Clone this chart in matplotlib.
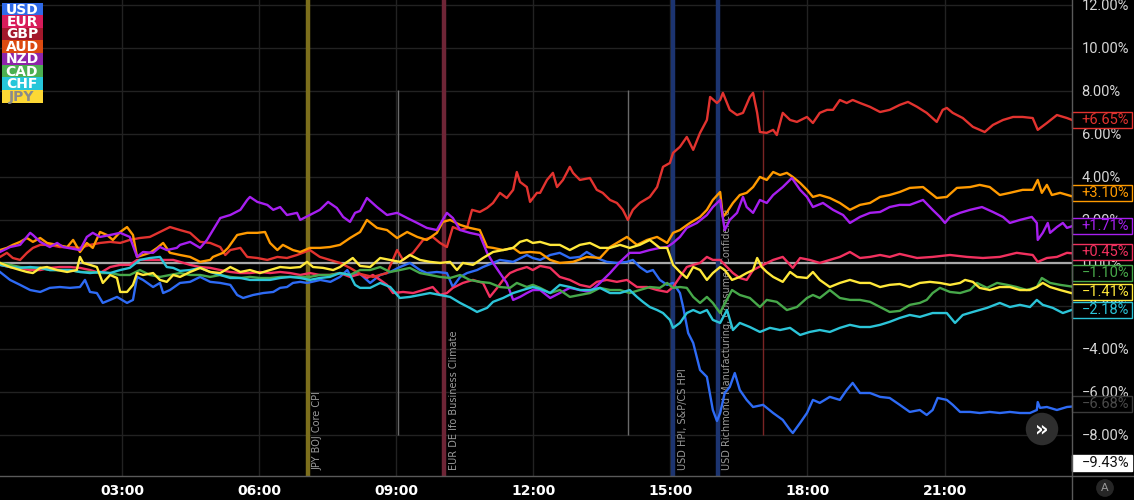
import matplotlib
matplotlib.use("Agg")
import matplotlib.pyplot as plt
import matplotlib.transforms as mtransforms
from matplotlib.patches import Rectangle

# currency strength, % change over the day (time in hours)
usd_t = [0.33, 0.55, 0.77, 0.99, 1.21, 1.42, 1.64, 1.86, 2.08, 2.19, 2.30, 2.45, 2.58, 2.74, 2.89, 3.11, 3.24, 3.33,
         3.46, 3.68, 3.83, 3.90, 4.05, 4.27, 4.49, 4.71, 4.93, 5.15, 5.37, 5.52, 5.65, 5.87, 6.09, 6.31, 6.46, 6.61,
         6.74, 6.90, 7.05, 7.34, 7.56, 7.77, 7.93, 7.99, 8.21, 8.43, 8.65, 8.87, 9.08, 9.30, 9.52, 9.67, 9.89, 10.11,
         10.24, 10.40, 10.55, 10.77, 10.90, 11.12, 11.27, 11.56, 11.86, 11.99, 12.15, 12.37, 12.58, 12.80, 13.02,
         13.17, 13.39, 13.61, 13.83, 14.05, 14.18, 14.33, 14.49, 14.62, 14.77, 14.93, 15.06, 15.21, 15.28, 15.39,
         15.50, 15.65, 15.80, 15.93, 16.02, 16.09, 16.19, 16.30, 16.41, 16.52, 16.67, 16.81, 17.03, 17.25, 17.46,
         17.62, 17.68, 17.84, 17.99, 18.12, 18.27, 18.49, 18.71, 18.86, 18.99, 19.15, 19.37, 19.59, 19.80, 20.02,
         20.24, 20.46, 20.61, 20.74, 20.85, 21.05, 21.18, 21.34, 21.56, 21.77, 21.99, 22.21, 22.43, 22.65, 22.87,
         23.02, 23.04, 23.09, 23.24, 23.46, 23.68, 23.79]
usd_v = [-0.42, -0.79, -1.02, -1.26, -1.35, -1.16, -1.12, -1.16, -1.12, -0.79, -1.35, -1.40, -1.86, -1.72, -1.58,
         -1.86, -1.72, -0.65, -0.79, -1.12, -0.93, -1.40, -1.26, -0.93, -0.88, -0.65, -0.88, -0.93, -1.02, -1.49,
         -1.63, -1.49, -1.40, -1.35, -1.16, -1.12, -0.93, -0.88, -0.93, -0.79, -0.88, -0.65, -0.33, -0.56, -0.51,
         -0.93, -0.56, -0.42, -0.19, 0.00, -0.33, -0.47, -0.42, -0.47, -1.12, -0.65, -0.47, -0.33, -0.19, 0.00,
         0.14, 0.05, 0.37, 0.23, 0.14, 0.37, 0.47, 0.23, 0.28, 0.51, 0.23, 0.05, 0.00, 0.05, 0.14, -0.19, -0.42,
         -0.33, -0.79, -1.02, -0.93, -1.40, -2.05, -3.26, -3.72, -4.98, -5.30, -6.84, -7.35, -6.98, -6.05, -5.77,
         -5.12, -5.91, -6.37, -6.70, -6.60, -6.98, -7.30, -7.77, -7.91, -7.44, -6.98, -6.37, -6.51, -6.23, -6.37,
         -5.91, -5.58, -6.05, -6.05, -6.23, -6.28, -6.60, -6.93, -6.84, -7.07, -6.84, -6.28, -6.37, -6.60, -6.93,
         -6.93, -6.98, -6.93, -6.98, -6.93, -6.98, -6.98, -6.84, -6.47, -6.74, -6.70, -6.84, -6.70, -6.68]

eur_t = [0.33, 0.55, 0.77, 0.99, 1.21, 1.42, 1.64, 1.86, 2.08, 2.30, 2.52, 2.74, 2.96, 3.17, 3.33, 3.46, 3.68, 3.90,
         4.12, 4.27, 4.49, 4.71, 4.93, 5.15, 5.37, 5.59, 5.80, 6.02, 6.24, 6.46, 6.68, 6.90, 7.11, 7.33, 7.55, 7.77,
         7.99, 8.21, 8.36, 8.49, 8.65, 8.80, 8.93, 9.15, 9.37, 9.59, 9.80, 9.96, 10.11, 10.24, 10.46, 10.68, 10.90,
         11.05, 11.21, 11.34, 11.49, 11.64, 11.86, 11.99, 12.15, 12.37, 12.58, 12.80, 13.02, 13.24, 13.39, 13.61,
         13.83, 14.05, 14.27, 14.49, 14.71, 14.93, 15.06, 15.21, 15.36, 15.50, 15.65, 15.80, 15.93, 16.09, 16.24,
         16.37, 16.52, 16.67, 16.81, 17.03, 17.25, 17.46, 17.68, 17.84, 18.05, 18.27, 18.49, 18.71, 18.93, 19.15,
         19.37, 19.59, 19.80, 20.02, 20.40, 20.74, 21.12, 21.49, 21.84, 22.21, 22.58, 22.93, 23.04, 23.24, 23.46,
         23.68, 23.79]
eur_v = [-0.09, -0.19, -0.23, -0.33, -0.33, -0.23, -0.19, -0.19, -0.23, -0.33, -0.47, -0.19, -0.09, -0.09, 0.14,
         0.14, 0.14, 0.14, 0.14, 0.05, -0.09, -0.19, -0.23, -0.33, -0.42, -0.47, -0.47, -0.42, -0.47, -0.42, -0.47,
         -0.56, -0.47, -0.56, -0.56, -0.47, -0.65, -0.51, -0.70, -0.56, -0.79, -1.02, -1.40, -1.35, -1.40, -1.26,
         -1.12, -1.49, -1.40, -1.16, -0.93, -0.79, -0.93, -1.58, -1.16, -0.79, -0.47, -0.33, -0.19, -0.33, -0.14,
         -0.23, -0.65, -0.79, -1.02, -1.12, -0.88, -0.79, -0.88, -0.79, -1.12, -1.12, -1.26, -1.35, -1.12, -0.65,
         -0.19, -0.09, 0.00, 0.28, 0.14, 0.14, -0.19, -0.47, -0.70, -0.79, -0.33, -0.09, 0.14, 0.28, -0.23, 0.23,
         0.14, 0.00, 0.14, 0.28, 0.51, 0.23, 0.28, 0.37, 0.28, 0.42, 0.23, 0.28, 0.37, 0.28, 0.23, 0.28, 0.47, 0.37,
         0.05, 0.23, 0.28, 0.47, 0.45]

gbp_t = [0.33, 0.48, 0.61, 0.77, 0.92, 1.05, 1.21, 1.42, 1.64, 1.86, 2.08, 2.30, 2.52, 2.74, 2.96, 3.17, 3.39, 3.61,
         3.83, 4.05, 4.27, 4.49, 4.71, 4.93, 5.15, 5.26, 5.37, 5.59, 5.74, 5.96, 6.18, 6.40, 6.61, 6.83, 7.11, 7.33,
         7.55, 7.77, 7.99, 8.21, 8.49, 8.80, 9.02, 9.15, 9.37, 9.59, 9.80, 9.96, 10.11, 10.24, 10.40, 10.55, 10.66,
         10.83, 10.99, 11.12, 11.27, 11.42, 11.56, 11.64, 11.71, 11.86, 11.93, 12.08, 12.15, 12.30, 12.43, 12.52,
         12.65, 12.80, 12.87, 13.02, 13.24, 13.39, 13.52, 13.68, 13.83, 13.96, 14.07, 14.18, 14.33, 14.55, 14.71,
         14.84, 14.99, 15.06, 15.21, 15.36, 15.50, 15.65, 15.80, 15.87, 16.02, 16.09, 16.15, 16.30, 16.46, 16.59,
         16.74, 16.81, 16.90, 16.96, 17.11, 17.25, 17.33, 17.46, 17.62, 17.77, 17.99, 18.12, 18.27, 18.43, 18.56,
         18.71, 18.86, 18.99, 19.15, 19.37, 19.59, 19.80, 20.02, 20.20, 20.40, 20.61, 20.83, 20.96, 21.05, 21.18,
         21.40, 21.62, 21.88, 22.06, 22.28, 22.50, 22.71, 22.93, 23.04, 23.24, 23.46, 23.68, 23.79]
gbp_v = [0.28, 0.47, 0.23, 0.14, 0.47, 0.70, 0.84, 0.84, 0.74, 0.74, 0.70, 0.84, 0.93, 0.98, 0.93, 1.07, 1.16, 1.21,
         1.44, 1.67, 1.53, 1.40, 0.98, 0.93, 0.74, 0.37, 0.60, 0.70, 0.28, 0.23, 0.14, 0.28, 0.23, 0.37, 0.60, 0.28,
         0.14, 0.00, -0.23, -0.51, -0.65, -0.47, 0.60, 0.14, 0.47, 1.07, 1.21, 0.93, 0.74, 1.67, 1.53, 1.63, 2.47,
         2.37, 2.56, 2.79, 3.26, 3.02, 3.40, 4.23, 3.77, 3.53, 2.84, 3.26, 3.26, 3.86, 4.19, 3.53, 3.86, 4.47, 4.19,
         3.86, 3.95, 3.40, 3.26, 2.93, 2.79, 2.47, 2.00, 2.47, 2.79, 3.07, 3.53, 4.47, 4.65, 5.12, 5.40, 5.86, 5.26,
         6.05, 6.65, 7.72, 7.44, 7.58, 7.91, 7.12, 6.88, 6.98, 7.72, 7.91, 6.98, 6.09, 6.05, 6.19, 5.95, 6.98, 6.65,
         6.56, 6.79, 6.51, 6.98, 7.12, 7.12, 7.58, 7.44, 7.58, 7.44, 7.26, 7.02, 7.12, 7.35, 7.49, 7.26, 6.98, 6.56,
         7.12, 7.21, 6.98, 6.74, 6.33, 6.09, 6.42, 6.65, 6.79, 6.79, 6.74, 6.19, 6.51, 6.88, 6.74, 6.65]

aud_t = [0.33, 0.48, 0.61, 0.77, 0.92, 1.05, 1.21, 1.36, 1.58, 1.80, 1.93, 2.08, 2.23, 2.36, 2.52, 2.67, 2.80, 2.96,
         3.11, 3.24, 3.33, 3.46, 3.61, 3.77, 3.90, 4.05, 4.27, 4.49, 4.71, 4.93, 4.99, 5.21, 5.32, 5.52, 5.74, 5.96,
         6.13, 6.24, 6.40, 6.52, 6.74, 6.90, 7.11, 7.33, 7.55, 7.77, 7.99, 8.21, 8.36, 8.58, 8.80, 9.02, 9.24, 9.46,
         9.67, 9.89, 10.02, 10.18, 10.40, 10.61, 10.83, 10.99, 11.12, 11.34, 11.56, 11.71, 11.93, 12.15, 12.37,
         12.58, 12.87, 13.17, 13.46, 13.68, 14.05, 14.27, 14.49, 14.71, 14.93, 15.06, 15.21, 15.43, 15.65, 15.80,
         15.93, 16.09, 16.15, 16.24, 16.37, 16.52, 16.67, 16.81, 16.96, 17.11, 17.25, 17.40, 17.55, 17.68, 17.84,
         17.99, 18.12, 18.27, 18.49, 18.71, 18.93, 19.15, 19.37, 19.59, 19.80, 20.02, 20.24, 20.53, 20.83, 21.05,
         21.27, 21.56, 21.77, 21.99, 22.21, 22.43, 22.71, 22.93, 23.04, 23.13, 23.24, 23.35, 23.53, 23.79]
aud_v = [0.60, 0.70, 0.84, 0.98, 1.16, 0.98, 1.16, 0.93, 0.84, 0.74, 1.07, 0.51, 0.93, 0.70, 1.44, 1.30, 1.07, 1.44,
         1.67, 1.30, 0.28, 0.37, 0.47, 0.70, 0.93, 0.47, 0.37, 0.28, 0.05, 0.14, 0.28, 0.47, 0.70, 1.30, 1.40, 1.40,
         1.44, 0.93, 0.60, 0.84, 0.60, 0.51, 0.70, 0.70, 0.74, 0.84, 1.16, 1.44, 2.00, 1.63, 1.53, 1.16, 1.44, 1.21,
         1.07, 1.40, 1.91, 2.00, 1.77, 1.63, 1.53, 0.74, 0.70, 0.60, 0.70, 0.47, 0.51, 0.47, 0.14, 0.00, 0.05, 0.28,
         0.23, 0.74, 1.21, 0.84, 1.07, 1.21, 0.93, 1.40, 1.53, 1.86, 2.14, 2.47, 2.93, 3.30, 2.14, 2.37, 2.79, 3.16,
         3.26, 3.53, 4.00, 3.86, 4.23, 4.09, 4.19, 4.00, 3.72, 3.40, 3.07, 3.16, 3.02, 2.79, 2.47, 2.70, 2.79, 3.07,
         3.16, 3.30, 3.49, 3.53, 3.02, 3.07, 3.49, 3.53, 3.63, 3.53, 3.16, 3.26, 3.40, 3.40, 3.86, 3.26, 3.63, 3.16,
         3.26, 3.10]

nzd_t = [0.33, 0.55, 0.77, 0.99, 1.05, 1.21, 1.42, 1.58, 1.71, 2.08, 2.23, 2.36, 2.52, 2.74, 2.96, 3.17, 3.33, 3.46,
         3.68, 3.83, 3.98, 4.20, 4.27, 4.49, 4.71, 4.86, 4.99, 5.15, 5.37, 5.59, 5.74, 5.80, 5.96, 6.18, 6.31, 6.46,
         6.61, 6.83, 6.90, 7.11, 7.33, 7.51, 7.70, 7.84, 7.99, 8.10, 8.21, 8.36, 8.58, 8.80, 9.02, 9.24, 9.46, 9.67,
         9.89, 10.11, 10.24, 10.40, 10.61, 10.83, 10.99, 11.12, 11.27, 11.42, 11.56, 11.71, 11.86, 11.99, 12.15,
         12.37, 12.58, 12.80, 13.02, 13.24, 13.46, 13.68, 13.90, 14.11, 14.33, 14.55, 14.77, 14.93, 15.06, 15.21,
         15.36, 15.58, 15.80, 15.93, 16.09, 16.19, 16.30, 16.46, 16.59, 16.67, 16.81, 16.96, 17.11, 17.25, 17.46,
         17.66, 17.84, 17.99, 18.12, 18.34, 18.56, 18.78, 18.93, 19.15, 19.37, 19.59, 19.80, 20.02, 20.24, 20.53,
         20.74, 20.90, 21.01, 21.12, 21.34, 21.56, 21.82, 22.06, 22.28, 22.43, 22.65, 22.91, 23.02, 23.04, 23.15,
         23.26, 23.31, 23.46, 23.59, 23.68, 23.79]
nzd_v = [0.51, 0.74, 0.84, 1.40, 1.30, 0.98, 0.74, 0.93, 0.74, 0.60, 1.21, 1.40, 1.21, 1.30, 1.40, 1.21, 0.28, 0.51,
         0.47, 0.74, 0.60, 0.70, 0.84, 0.98, 0.70, 1.07, 1.53, 2.09, 2.23, 2.47, 2.93, 3.07, 2.84, 2.70, 2.47, 2.60,
         2.23, 2.33, 2.00, 2.23, 2.47, 2.84, 2.56, 2.14, 1.91, 2.33, 2.42, 3.02, 2.60, 2.23, 2.33, 2.09, 1.86, 1.63,
         1.53, 2.33, 2.09, 1.53, 1.40, 1.30, 0.47, 0.00, -0.47, -0.93, -1.72, -1.58, -1.40, -1.26, -1.26, -1.63,
         -1.40, -1.16, -1.26, -1.35, -0.93, -0.47, 0.05, 0.47, 0.47, 0.60, 0.70, 0.74, 0.93, 1.21, 1.63, 1.86, 2.23,
         2.60, 2.93, 1.53, 2.00, 2.33, 3.07, 2.60, 2.33, 2.93, 2.79, 3.16, 3.53, 3.95, 3.40, 3.07, 2.60, 2.79, 2.47,
         2.23, 1.86, 2.14, 2.33, 2.37, 2.60, 2.70, 2.70, 2.93, 2.47, 2.14, 1.86, 2.14, 2.33, 2.47, 2.60, 2.37, 2.14,
         1.86, 2.00, 2.14, 1.86, 1.07, 1.40, 1.86, 1.40, 1.67, 1.86, 1.63, 1.71]

cad_t = [0.33, 0.55, 0.77, 0.99, 1.21, 1.42, 1.64, 1.86, 2.08, 2.30, 2.52, 2.74, 2.96, 3.17, 3.39, 3.61, 3.83, 4.05,
         4.27, 4.49, 4.71, 4.93, 5.15, 5.37, 5.59, 5.80, 6.02, 6.24, 6.46, 6.68, 6.90, 7.11, 7.33, 7.55, 7.77, 7.99,
         8.21, 8.43, 8.65, 8.87, 9.08, 9.30, 9.52, 9.74, 9.96, 10.18, 10.40, 10.61, 10.83, 11.05, 11.27, 11.49,
         11.64, 11.86, 11.99, 12.15, 12.37, 12.58, 12.80, 13.02, 13.24, 13.46, 13.68, 13.90, 14.11, 14.33, 14.55,
         14.77, 14.93, 15.06, 15.21, 15.36, 15.50, 15.65, 15.80, 15.93, 16.09, 16.15, 16.35, 16.52, 16.74, 16.96,
         17.11, 17.33, 17.55, 17.77, 17.99, 18.12, 18.27, 18.49, 18.71, 18.93, 19.15, 19.37, 19.59, 19.80, 20.02,
         20.24, 20.46, 20.61, 20.74, 20.90, 21.12, 21.34, 21.56, 21.71, 21.93, 22.15, 22.37, 22.58, 22.80, 23.02,
         23.13, 23.31, 23.53, 23.79]
cad_v = [0.00, -0.09, -0.19, -0.23, -0.23, -0.33, -0.33, -0.33, -0.42, -0.42, -0.47, -0.47, -0.56, -0.56, -0.33,
         -0.56, -0.65, -0.56, -0.47, -0.56, -0.56, -0.65, -0.56, -0.65, -0.70, -0.65, -0.70, -0.70, -0.65, -0.65,
         -0.65, -0.65, -0.56, -0.56, -0.47, -0.56, -0.33, -0.33, -0.19, -0.42, -0.33, -0.23, -0.47, -0.56, -0.65,
         -0.70, -0.56, -0.79, -0.88, -0.93, -1.12, -1.16, -0.93, -1.12, -1.02, -1.16, -1.40, -1.26, -1.58, -1.49,
         -1.40, -1.16, -1.26, -1.26, -1.40, -1.26, -1.12, -1.16, -0.93, -1.16, -1.12, -1.16, -1.58, -1.86, -1.58,
         -1.86, -2.33, -2.05, -1.26, -1.49, -1.63, -2.05, -1.72, -1.81, -2.19, -2.05, -1.63, -1.49, -1.63, -1.26,
         -1.63, -1.72, -1.72, -1.81, -2.05, -2.28, -2.23, -1.95, -1.86, -1.72, -1.40, -1.16, -1.35, -1.40, -1.26,
         -0.93, -1.16, -0.93, -1.02, -1.12, -1.26, -1.12, -0.70, -0.93, -1.02, -1.10]

chf_t = [0.33, 0.55, 0.77, 0.99, 1.21, 1.42, 1.64, 1.86, 2.08, 2.30, 2.52, 2.74, 2.96, 3.17, 3.39, 3.61, 3.83, 3.98,
         4.12, 4.27, 4.49, 4.71, 4.93, 5.15, 5.37, 5.59, 5.80, 6.02, 6.24, 6.46, 6.68, 6.90, 7.11, 7.33, 7.55, 7.77,
         7.99, 8.10, 8.21, 8.43, 8.65, 8.87, 9.08, 9.30, 9.52, 9.74, 9.96, 10.18, 10.40, 10.61, 10.77, 10.99, 11.12,
         11.34, 11.56, 11.77, 11.99, 12.15, 12.37, 12.58, 12.80, 13.02, 13.24, 13.46, 13.68, 13.90, 14.11, 14.27,
         14.40, 14.55, 14.71, 14.84, 14.99, 15.06, 15.21, 15.36, 15.50, 15.65, 15.80, 15.93, 16.09, 16.24, 16.37,
         16.52, 16.74, 16.96, 17.18, 17.40, 17.62, 17.84, 18.05, 18.27, 18.49, 18.71, 18.93, 19.15, 19.37, 19.59,
         19.80, 20.02, 20.24, 20.46, 20.74, 21.05, 21.23, 21.40, 21.62, 21.93, 22.21, 22.43, 22.65, 22.87, 22.98,
         23.02, 23.15, 23.37, 23.59, 23.79]
chf_v = [-0.09, -0.19, -0.23, -0.19, -0.23, -0.33, -0.33, -0.33, -0.42, -0.47, -0.42, -0.47, -0.33, -0.23, 0.14,
         0.23, 0.28, -0.19, -0.23, -0.37, -0.33, -0.23, -0.42, -0.56, -0.70, -0.70, -0.79, -0.79, -0.79, -0.70,
         -0.65, -0.70, -0.79, -0.70, -0.65, -0.47, -0.56, -1.02, -1.16, -1.16, -0.93, -1.12, -1.63, -1.58, -1.49,
         -1.40, -1.49, -1.58, -1.86, -2.09, -2.28, -2.09, -1.81, -1.63, -1.40, -1.26, -1.12, -1.21, -1.40, -1.02,
         -1.12, -1.26, -1.26, -1.16, -1.40, -1.40, -1.26, -1.58, -1.81, -2.05, -2.19, -2.33, -2.65, -3.02, -2.79,
         -2.33, -2.19, -2.33, -2.19, -2.65, -2.79, -2.19, -3.12, -2.79, -2.98, -3.21, -3.02, -3.12, -3.02, -3.35,
         -3.21, -3.12, -3.21, -3.02, -2.88, -2.98, -2.98, -2.88, -2.74, -2.56, -2.42, -2.51, -2.33, -2.33, -2.79,
         -2.42, -2.28, -2.09, -1.86, -2.05, -1.95, -2.05, -1.81, -1.72, -1.95, -2.09, -2.33, -2.18]

jpy_t = [0.33, 0.55, 0.77, 0.92, 1.05, 1.21, 1.36, 1.58, 1.80, 2.01, 2.08, 2.15, 2.30, 2.45, 2.58, 2.74, 2.89, 2.96,
         3.11, 3.24, 3.33, 3.46, 3.68, 3.83, 3.98, 4.12, 4.27, 4.49, 4.71, 4.93, 5.15, 5.37, 5.59, 5.80, 6.02, 6.24,
         6.46, 6.68, 6.90, 7.05, 7.18, 7.40, 7.62, 7.77, 7.93, 8.05, 8.21, 8.43, 8.65, 8.87, 9.08, 9.30, 9.52, 9.74,
         9.96, 10.18, 10.33, 10.46, 10.68, 10.90, 11.12, 11.34, 11.56, 11.71, 11.86, 11.99, 12.15, 12.37, 12.58,
         12.80, 13.02, 13.24, 13.46, 13.68, 13.90, 14.11, 14.33, 14.55, 14.77, 14.93, 15.06, 15.21, 15.36, 15.50,
         15.65, 15.80, 15.93, 16.09, 16.19, 16.35, 16.52, 16.67, 16.81, 16.90, 17.00, 17.11, 17.25, 17.46, 17.62,
         17.77, 17.99, 18.12, 18.27, 18.49, 18.71, 18.93, 19.15, 19.37, 19.59, 19.80, 20.02, 20.24, 20.46, 20.68,
         20.90, 21.12, 21.34, 21.45, 21.62, 21.77, 21.99, 22.21, 22.43, 22.65, 22.87, 23.02, 23.15, 23.31, 23.53,
         23.79]
jpy_v = [0.00, -0.19, -0.33, -0.42, -0.47, -0.23, -0.19, -0.33, -0.42, -0.33, 0.28, 0.00, -0.09, -0.19, -0.93,
         -0.56, -0.70, -1.35, -1.35, -1.02, -0.47, -0.56, -0.47, -0.79, -0.88, -0.56, -0.65, -0.42, -0.23, -0.42,
         -0.47, -0.19, -0.42, -0.33, -0.47, -0.33, -0.19, -0.23, -0.19, 0.05, -0.19, -0.23, -0.33, -0.19, 0.05, 0.23,
         -0.14, -0.19, 0.23, 0.14, 0.05, 0.37, 0.14, 0.05, 0.00, 0.05, -0.33, 0.00, -0.09, 0.23, 0.51, 0.60, 0.70,
         0.98, 1.07, 0.93, 0.98, 0.84, 0.84, 0.60, 0.84, 0.93, 0.70, 0.70, 0.84, 0.70, 0.84, 1.07, 0.70, 0.70, -0.09,
         -0.42, -0.70, -0.19, -0.33, -0.79, -0.47, -0.19, -0.33, -0.79, -0.65, -0.47, -0.33, 0.23, -0.19, -0.42,
         -0.65, -0.88, -0.42, -0.65, -0.70, -0.42, -0.79, -1.12, -0.93, -0.79, -0.93, -0.93, -1.12, -1.02, -0.98,
         -1.12, -0.93, -0.88, -0.93, -1.02, -0.93, -0.79, -0.88, -1.16, -1.26, -1.12, -1.12, -1.26, -1.26, -1.12,
         -0.93, -1.12, -1.26, -1.41]

names = ["USD", "EUR", "GBP", "AUD", "NZD", "CAD", "CHF", "JPY"]
line_colors = ["#2e6bf5", "#f2315f", "#e2332f", "#ff9a00", "#a71ff0", "#47a84a", "#2cc4d8", "#ffe83a"]
legend_colors = ["#2f6ae8", "#d81b5a", "#a3182b", "#dc4a10", "#8e24aa", "#4caf50", "#26c6da", "#fdd835"]
series = [(usd_t, usd_v), (eur_t, eur_v), (gbp_t, gbp_v), (aud_t, aud_v), (nzd_t, nzd_v),
          (cad_t, cad_v), (chf_t, chf_v), (jpy_t, jpy_v)]

# last value boxes on the price scale
last_labels = ["+6.65%", "+3.10%", "+1.71%", "+0.45%", "\u22121.10%", "\u22121.41%", "\u22122.18%"]
last_colors = ["#e2332f", "#ff9a00", "#a71ff0", "#f2315f", "#47a84a", "#ffe83a", "#2cc4d8"]
last_pos = [6.65, 3.26, 1.72, 0.50, -0.47, -1.35, -2.19]

events = ["JPY BOJ Core CPI", "EUR DE Ifo Business Climate", "USD HPI, S&P/CS HPI",
          "USD Richmond Manufacturing, Consumer Confidence"]
event_times = [7.07, 10.05, 15.06, 16.04]
event_colors = ["#7d6f1c", "#6e2536", "#1c3470", "#1c3470"]

W, H = 1134, 500
fig = plt.figure(figsize=(W / 100, H / 100), dpi=100, facecolor="black")
ax = fig.add_axes([0, 24 / H, 1072 / W, 476 / H])
ax.set_facecolor("black")
ax.set_xlim(0.33, 23.79)
ax.set_ylim(-9.91, 12.23)

for v in range(-8, 13, 2):
    ax.axhline(v, color="#222222", lw=1, zorder=0)
for h in range(3, 22, 3):
    ax.axvline(h, color="#222222", lw=1, zorder=0)
ax.axhline(0, color="#a8a8a8", lw=1.6, zorder=1)
ax.vlines([9.04, 14.07], -8.0, 8.05, color="#6a6a6a", lw=1, zorder=1)
ax.vlines([17.03], -8.0, 8.05, color="#7a2424", lw=1, zorder=1)

for t, c in zip(event_times, event_colors):
    ax.axvline(t, color=c, lw=3.2, zorder=1)
for t, txt in zip(event_times, events):
    ax.text(t + 0.1, -9.62, txt, rotation=90, ha="left", va="bottom",
            color="#9a9a9a", fontsize=7, zorder=2)

for (t, v), c in zip(series, line_colors):
    ax.plot(t, v, color=c, lw=1.7, zorder=3)

ax.set_xticks(range(3, 22, 3))
ax.set_xticklabels(["%02d:00" % h for h in range(3, 22, 3)])
ax.yaxis.tick_right()
ax.set_yticks(range(-8, 13, 2))
ax.set_yticklabels([("%.2f%%" % v).replace("-", "\u2212") for v in range(-8, 13, 2)])
ax.tick_params(axis="x", length=0, pad=6, labelcolor="white", labelsize=10)
ax.tick_params(axis="y", length=0, pad=7, labelcolor="#d6d6d6", labelsize=10.5)
for lab in ax.get_xticklabels():
    lab.set_fontweight("bold")
for lab in ax.get_yticklabels():
    lab.set_family("Roboto")
for s in ax.spines.values():
    s.set_visible(False)

# last value boxes
trans = mtransforms.blended_transform_factory(ax.transAxes, ax.transData)
box_w = 60 / 1072
box_h = 16 / 21.5
for lab, c, y in zip(last_labels, last_colors, last_pos):
    ax.add_patch(Rectangle((1.0, y - box_h / 2), box_w, box_h, transform=trans,
                           fc="black", ec=c, lw=1, clip_on=False, zorder=5))
    ax.text(1.009, y, lab, transform=trans, ha="left", va="center", family="Roboto",
            color=c, fontsize=10.5, clip_on=False, zorder=6)
ax.add_patch(Rectangle((1.0, -6.56 - box_h / 2), box_w, box_h, transform=trans,
                       fc="black", ec="#3a3a3a", lw=1, clip_on=False, zorder=5))
ax.text(1.009, -6.56, "\u22126.68%", transform=trans, ha="left", va="center", family="Roboto",
        color="#4a4a4a", fontsize=10.5, clip_on=False, zorder=6)
ax.add_patch(Rectangle((1.0, -9.30 - box_h / 2), box_w, box_h, transform=trans,
                       fc="white", ec="white", lw=1, clip_on=False, zorder=5))
ax.text(1.009, -9.30, "\u22129.43%", transform=trans, ha="left", va="center", family="Roboto",
        color="#111111", fontsize=10.5, clip_on=False, zorder=6)

# frame lines
fig.add_artist(plt.Line2D([0, 1], [24 / H, 24 / H], color="#5a5a5a", lw=1))
fig.add_artist(plt.Line2D([1072 / W, 1072 / W], [0, 1], color="#5a5a5a", lw=1))

# legend
step = 12.4
for i, (n, c) in enumerate(zip(names, legend_colors)):
    y0 = 3 + i * step
    fig.add_artist(Rectangle((2 / W, 1 - (y0 + step + 1) / H), 41 / W, (step + 1) / H,
                             fc=c, ec="none"))
    fig.text(22 / W, 1 - (y0 + step / 2 + 0.5) / H, n, ha="center", va="center",
             color="#8a8a8a" if n == "JPY" else "white", fontsize=10, fontweight="bold")

# buttons
fig.text(1042 / W, 1 - 429 / H, "\u00bb", ha="center", va="center", color="white",
         fontsize=15, fontweight="bold",
         bbox=dict(boxstyle="circle,pad=0.3", fc="#2e2e2e", ec="none"))
fig.text(1105 / W, 1 - 488 / H, "A", ha="center", va="center", color="#9a9a9a", fontsize=8,
         bbox=dict(boxstyle="circle,pad=0.35", fc="#262626", ec="none"))

fig.savefig("out.png", dpi=100, facecolor="black")
